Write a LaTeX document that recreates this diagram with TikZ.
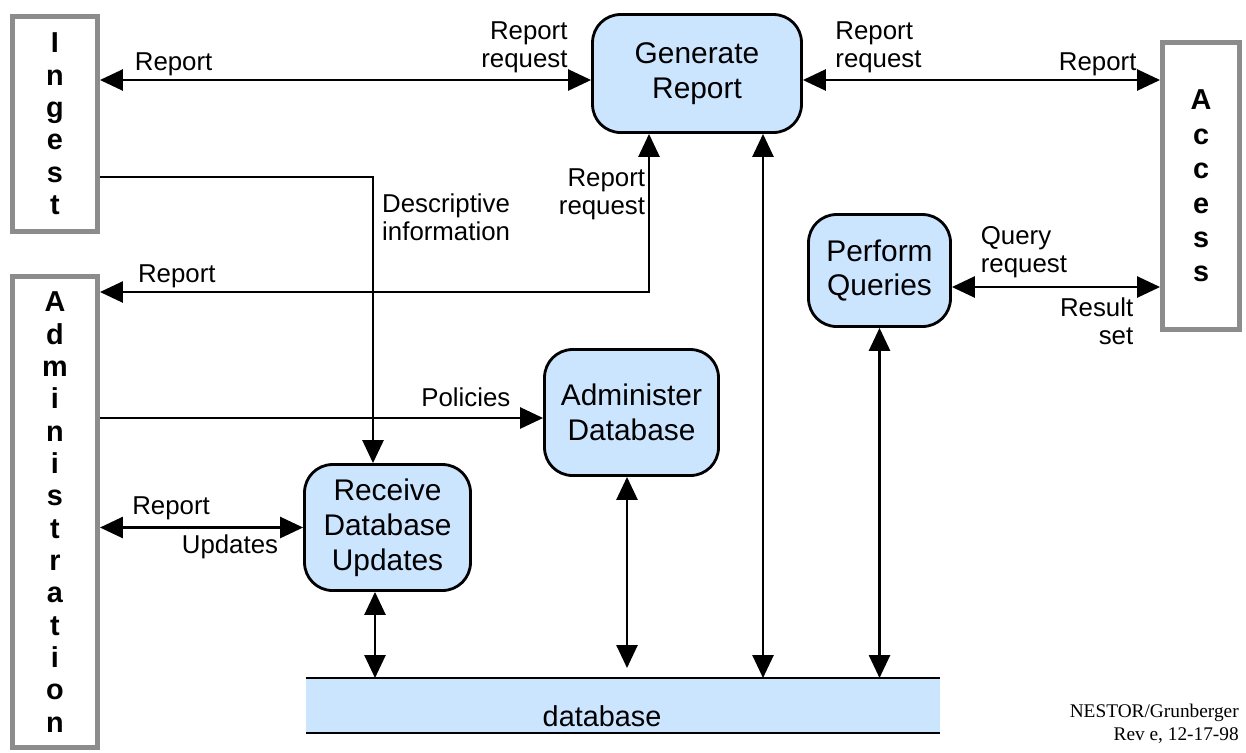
\documentclass[tikz,border=0pt]{standalone}
\usepackage{fontspec}
\setmainfont{Liberation Sans}
\newfontfamily\notefont{Liberation Serif}
\usetikzlibrary{arrows.meta}
\definecolor{procblue}{RGB}{204,229,255}
\definecolor{actorgray}{RGB}{140,140,140}

\begin{document}
\begin{tikzpicture}[x=0.02cm,y=-0.02cm,line width=1.5pt,
    >={Triangle[length=0.46cm,width=0.42cm]},
    proc/.style={draw,fill=procblue,rounded corners=0.56cm,align=center,line width=1.6pt,
      font=\fontsize{17}{19.8}\selectfont},
    actor/.style={draw=actorgray,fill=white,line width=2.8pt,align=center,inner sep=0pt,
      font=\bfseries\fontsize{16.4}{18.4}\selectfont},
    lbl/.style={inner sep=1.5pt,font=\fontsize{14.7}{15.9}\selectfont},
    dbstore/.style={fill=procblue,outer sep=0pt,minimum width=12.68cm,minimum height=1.1cm}]
  \useasboundingbox (0,0) rectangle (1246,752);

  \node[actor,minimum width=1.7cm,minimum height=4.3cm] (ingest) at (55,124) {I\\n\\g\\e\\s\\t};
  \node[actor,minimum width=1.7cm,minimum height=9.42cm] (admin) at (55,512)
    {A\\d\\m\\i\\n\\i\\s\\t\\r\\a\\t\\i\\o\\n};
  \node[actor,minimum width=1.54cm,minimum height=5.74cm,
    font=\bfseries\fontsize{16.4}{19.6}\selectfont] (access) at (1201,186) {A\\c\\c\\e\\s\\s};

  \node[proc,minimum width=4.18cm,minimum height=2.36cm] (gr) at (697,73.5) {Generate\\Report};
  \node[proc,minimum width=2.84cm,minimum height=2.24cm] (pq) at (879.5,270.5) {Perform\\Queries};
  \node[proc,minimum width=3.48cm,minimum height=2.52cm] (ad) at (631.5,412.5) {Administer\\Database};
  \node[proc,minimum width=3.32cm,minimum height=2.52cm] (rdu) at (387.5,527.5) {Receive\\Database\\Updates};

  \node[dbstore,label={[font=\fontsize{16.4}{19.6}\selectfont,xshift=-0.42cm,yshift=-0.22cm]center:database}]
    (db) at (623,705.5) {};
  \draw[line width=1.6pt] (db.north west) -- (db.north east);
  \draw[line width=1.6pt] (db.south west) -- (db.south east);

  \draw[<->] (ingest.east |- 0,80) -- node[lbl,above,pos=0.15] {Report}
    node[lbl,above left,align=right,pos=0.96,yshift=2pt] {Report\\request} (gr.west |- 0,80);
  \draw[<->] (gr.east |- 0,80) -- node[lbl,above right,align=left,pos=0.08,yshift=2pt] {Report\\request}
    node[lbl,above left,pos=0.945] {Report} (access.west |- 0,80);
  \draw[->] (ingest.east |- 0,177) -| node[lbl,right=3pt,align=left,pos=0.57] {Descriptive\\information}
    (373,0 |- rdu.north);
  \draw[->] (admin.east |- 0,418) -- node[lbl,above left,pos=0.935,yshift=4pt] {Policies} (ad.west |- 0,418);
  \draw[<->] (admin.east |- 0,292) -| node[lbl,above,pos=0.07] {Report}
    node[lbl,left,align=right,pos=0.81] {Report\\request} (649,0 |- gr.south);
  \draw[<->] (admin.east |- rdu.west) -- node[lbl,above,pos=0.35,yshift=2pt] {Report}
    node[lbl,below,pos=0.64,yshift=-2pt] {Updates} (rdu.west);
  \draw[<->] (pq.east |- 0,287) -- node[lbl,above right,align=left,pos=0.12,yshift=3pt] {Query\\request}
    node[lbl,below left,align=right,pos=0.89,yshift=-4pt] {Result\\set} (access.west |- 0,287);

  \coordinate (adend) at (627,668);
  \draw[<->] (375,0 |- rdu.south) -- (375,0 |- db.north);
  \draw[<->] (adend |- ad.south) -- (adend);
  \draw[<->] (763,0 |- gr.south) -- (763,0 |- db.north);
  \draw[<->] (pq.south) -- (pq.south |- db.north);

  \node[anchor=south east,inner sep=0pt,align=right,font=\notefont\fontsize{11}{13}\selectfont] (stamp)
    at (1240,745) {NESTOR/Grunberger\\Rev e, 12-17-98};
\end{tikzpicture}
\end{document}
